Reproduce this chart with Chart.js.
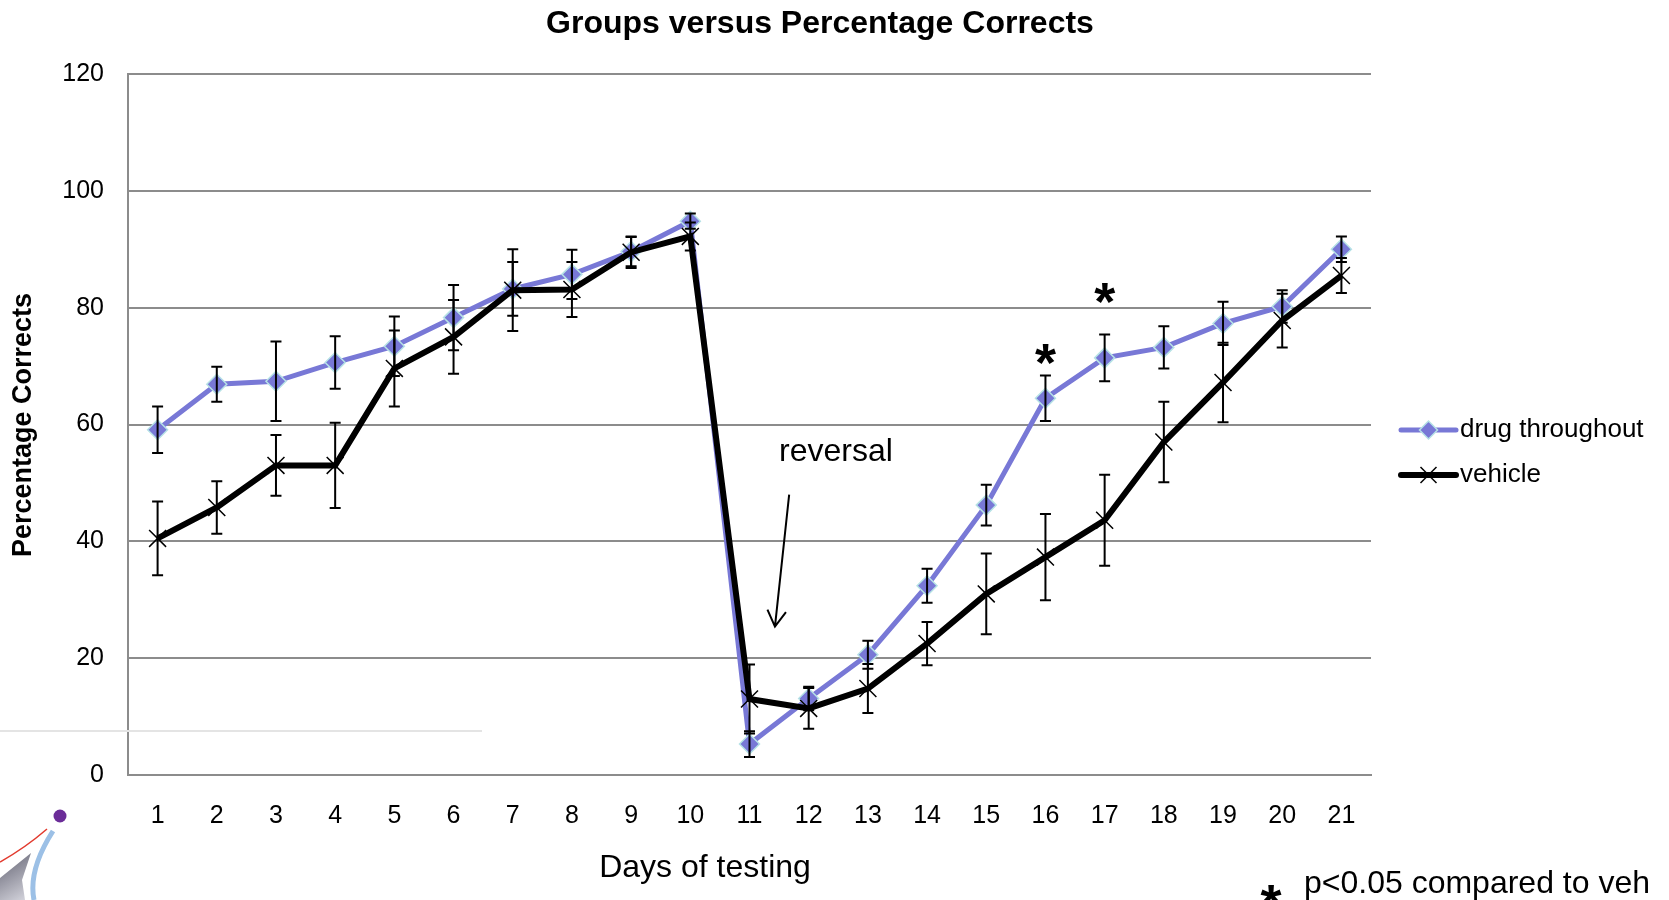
<!DOCTYPE html>
<html>
<head>
<meta charset="utf-8">
<script src="https://cdn.jsdelivr.net/npm/chart.js@4.4.1/dist/chart.umd.min.js"></script>
<style>
  html, body { margin: 0; padding: 0; background: #fff; }
</style>
</head>
<body>
<canvas id="chart" width="1669" height="900"></canvas>
<script>
const days = ['1','2','3','4','5','6','7','8','9','10','11','12','13','14','15','16','17','18','19','20','21'];

const drug    = [59.1, 66.9, 67.4, 70.6, 73.4, 78.3, 83.2, 85.7, 89.6, 94.8, 5.3, 13.1, 20.6, 32.4, 46.2, 64.5, 71.4, 73.2, 77.3, 80.2, 90.0];
const drugErr = [4.0, 3.0, 6.8, 4.5, 5.1, 5.6, 4.6, 4.2, 2.5, 1.3, 2.2, 2.0, 2.4, 2.9, 3.5, 3.9, 4.0, 3.6, 3.7, 2.8, 2.2];

const vehicle = [40.5, 45.8, 53.0, 53.0, 69.6, 75.0, 83.0, 83.1, 89.5, 92.2, 13.0, 11.4, 14.8, 22.5, 31.0, 37.3, 43.6, 57.0, 67.2, 77.8, 85.5];
const vehErr  = [6.3, 4.5, 5.2, 7.3, 6.5, 6.3, 7.0, 4.7, 2.7, 2.4, 5.9, 3.5, 4.2, 3.7, 6.9, 7.4, 7.8, 6.9, 6.8, 4.6, 3.0];

const yTicks = [0, 20, 40, 60, 80, 100, 120];

// significance stars (category index, value where the star sits)
const starIdx = [15, 16];
const starVal = [72.7, 83.2];

const FONT = '"Liberation Sans", Arial, sans-serif';
const DRUG_COLOR = '#7878d6';
const GRID = '#8c8c8c';

// draws error bars, annotations, legend and the bits around the plot
const extras = {
  id: 'extras',
  afterDatasetsDraw(chart) {
    const ctx = chart.ctx;
    const ys = chart.scales.y;
    const errs = [drugErr, vehErr];
    const vals = [drug, vehicle];
    ctx.save();
    ctx.strokeStyle = '#000';
    ctx.lineWidth = 2;
    for (let d = 0; d < 2; d++) {
      const meta = chart.getDatasetMeta(d);
      meta.data.forEach((pt, i) => {
        const top = ys.getPixelForValue(vals[d][i] + errs[d][i]);
        const bot = ys.getPixelForValue(vals[d][i] - errs[d][i]);
        ctx.beginPath();
        ctx.moveTo(pt.x, top); ctx.lineTo(pt.x, bot);
        ctx.moveTo(pt.x - 5.5, top); ctx.lineTo(pt.x + 5.5, top);
        ctx.moveTo(pt.x - 5.5, bot); ctx.lineTo(pt.x + 5.5, bot);
        ctx.stroke();
      });
    }
    ctx.restore();
  },
  afterDraw(chart) {
    const ctx = chart.ctx;
    const xs = chart.scales.x, ys = chart.scales.y;
    ctx.save();
    ctx.fillStyle = '#000';

    // title
    ctx.font = 'bold 32px ' + FONT;
    ctx.textAlign = 'center';
    ctx.textBaseline = 'middle';
    ctx.fillText('Groups versus Percentage Corrects', 820, 24);

    // axis titles
    ctx.font = '32px ' + FONT;
    ctx.fillText('Days of testing', 705, 868);
    ctx.save();
    ctx.translate(24, 425);
    ctx.rotate(-Math.PI / 2);
    ctx.font = 'bold 27px ' + FONT;
    ctx.fillText('Percentage Corrects', 0, 0);
    ctx.restore();

    // reversal note and arrow
    ctx.font = '32px ' + FONT;
    ctx.textBaseline = 'alphabetic';
    ctx.fillText('reversal', xs.getPixelForValue(11.46), ys.getPixelForValue(53.8));
    const ax0 = xs.getPixelForValue(10.67), ay0 = ys.getPixelForValue(48.0);
    const ax1 = xs.getPixelForValue(10.43), ay1 = ys.getPixelForValue(25.4);
    ctx.strokeStyle = '#000';
    ctx.lineWidth = 2;
    ctx.beginPath();
    ctx.moveTo(ax0, ay0); ctx.lineTo(ax1, ay1);
    ctx.moveTo(ax1 - 7.5, ay1 - 17); ctx.lineTo(ax1, ay1); ctx.lineTo(ax1 + 11, ay1 - 14.5);
    ctx.stroke();

    // stars
    ctx.font = 'bold 54px ' + FONT;
    starIdx.forEach((ix, k) => {
      ctx.fillText('*', xs.getPixelForValue(ix), ys.getPixelForValue(starVal[k]) + 31);
    });

    // legend
    const lx = 1401, lw = 55;
    const rows = [430, 475];
    ctx.lineCap = 'round';
    ctx.strokeStyle = DRUG_COLOR; ctx.lineWidth = 5;
    ctx.beginPath(); ctx.moveTo(lx, rows[0]); ctx.lineTo(lx + lw, rows[0]); ctx.stroke();
    ctx.fillStyle = DRUG_COLOR; ctx.strokeStyle = '#b6e2e6'; ctx.lineWidth = 1.5;
    const cx = lx + lw / 2;
    ctx.beginPath();
    ctx.moveTo(cx - 9, rows[0]); ctx.lineTo(cx, rows[0] - 9); ctx.lineTo(cx + 9, rows[0]); ctx.lineTo(cx, rows[0] + 9); ctx.closePath();
    ctx.fill(); ctx.stroke();
    ctx.strokeStyle = '#000'; ctx.lineWidth = 6;
    ctx.beginPath(); ctx.moveTo(lx, rows[1]); ctx.lineTo(lx + lw, rows[1]); ctx.stroke();
    ctx.lineWidth = 1.5; ctx.lineCap = 'butt';
    ctx.beginPath();
    ctx.moveTo(cx - 8, rows[1] - 8); ctx.lineTo(cx + 8, rows[1] + 8);
    ctx.moveTo(cx + 8, rows[1] - 8); ctx.lineTo(cx - 8, rows[1] + 8);
    ctx.stroke();
    ctx.fillStyle = '#000';
    ctx.font = '26px ' + FONT;
    ctx.textAlign = 'left';
    ctx.textBaseline = 'middle';
    ctx.fillText('drug throughout', 1460, rows[0]);
    ctx.fillText('vehicle', 1460, rows[1]);

    // footnote
    ctx.font = '32px ' + FONT;
    ctx.fillText('p<0.05 compared to veh', 1304, 884);
    ctx.font = 'bold 54px ' + FONT;
    ctx.textAlign = 'center';
    ctx.textBaseline = 'alphabetic';
    ctx.fillText('*', 1271, 922);

    // faint slide line + logo fragments, bottom left
    ctx.strokeStyle = '#e4e4e4'; ctx.lineWidth = 2;
    ctx.beginPath(); ctx.moveTo(0, 731); ctx.lineTo(482, 731); ctx.stroke();
    ctx.fillStyle = '#6b2c98';
    ctx.beginPath(); ctx.arc(60, 816, 6.5, 0, Math.PI * 2); ctx.fill();
    ctx.strokeStyle = '#e23a2e'; ctx.lineWidth = 1.5;
    ctx.beginPath(); ctx.moveTo(47, 829); ctx.quadraticCurveTo(25, 848, 0, 862); ctx.stroke();
    ctx.strokeStyle = '#9cc0e6'; ctx.lineWidth = 5;
    ctx.beginPath(); ctx.moveTo(53, 831); ctx.quadraticCurveTo(28, 870, 34, 900); ctx.stroke();
    const g = ctx.createLinearGradient(0, 850, 30, 900);
    g.addColorStop(0, '#5a5a6a'); g.addColorStop(1, '#d8d8e0');
    ctx.fillStyle = g;
    ctx.beginPath();
    ctx.moveTo(31, 853); ctx.lineTo(22, 880); ctx.lineTo(25, 900); ctx.lineTo(0, 900); ctx.lineTo(0, 878);
    ctx.closePath(); ctx.fill();

    ctx.restore();
  }
};

new Chart(document.getElementById('chart').getContext('2d'), {
  type: 'line',
  data: {
    labels: days,
    datasets: [{
      label: 'drug throughout',
      data: drug,
      order: 2,
      borderColor: DRUG_COLOR,
      borderWidth: 5,
      tension: 0,
      pointStyle: 'rectRot',
      pointRadius: 10,
      pointBackgroundColor: DRUG_COLOR,
      pointBorderColor: '#b6e2e6',
      pointBorderWidth: 1.5
    }, {
      label: 'vehicle',
      data: vehicle,
      order: 1,
      borderColor: '#000',
      borderWidth: 6,
      tension: 0,
      pointStyle: 'crossRot',
      pointRadius: 12,
      pointBorderColor: '#000',
      pointBorderWidth: 1.5
    }]
  },
  options: {
    responsive: false,
    animation: false,
    devicePixelRatio: 1,
    layout: { padding: { top: 74, right: 298, left: 0, bottom: 0 } },
    plugins: {
      legend: { display: false },
      title: { display: false },
      tooltip: { enabled: false }
    },
    scales: {
      x: {
        offset: true,
        grid: { display: false, drawTicks: false },
        border: { display: true, color: GRID, width: 2 },
        ticks: { color: '#000', font: { family: FONT, size: 25 }, padding: 26, maxRotation: 0, autoSkip: false },
        afterFit(scale) { scale.height = 125; }
      },
      y: {
        min: 0,
        max: 120,
        afterBuildTicks(scale) { scale.ticks = yTicks.map(v => ({ value: v })); },
        grid: { color: GRID, lineWidth: 2, drawTicks: false },
        border: { display: true, color: GRID, width: 2 },
        ticks: { color: '#000', font: { family: FONT, size: 25 }, padding: 24 },
        afterFit(scale) { scale.width = 128; }
      }
    }
  },
  plugins: [extras]
});
</script>
</body>
</html>
